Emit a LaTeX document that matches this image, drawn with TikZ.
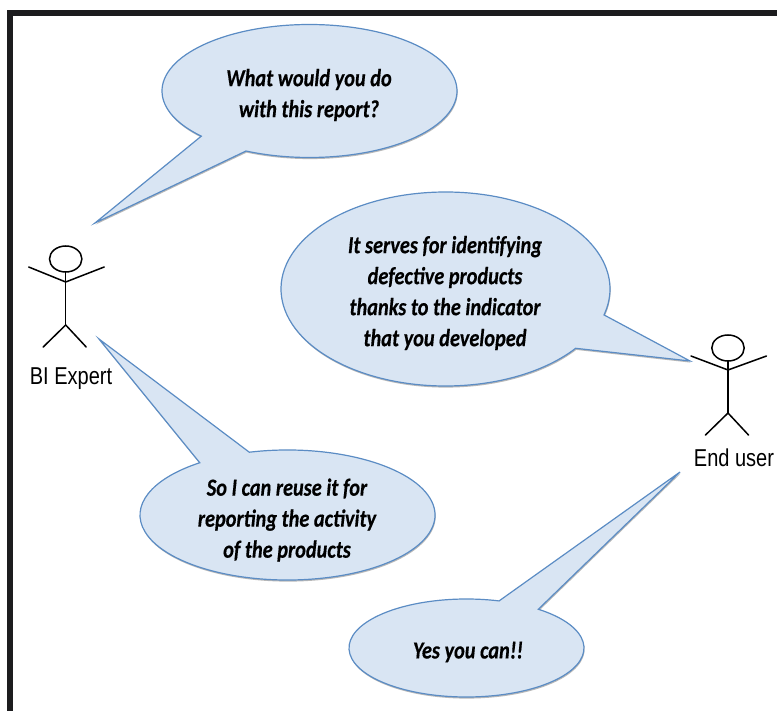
\documentclass[tikz,border=0pt]{standalone}
\usepackage{fontspec}
\setmainfont{Carlito}
\newfontfamily\sayfont[FakeStretch=0.83,BoldItalicFeatures={FakeBold=0.35}]{Carlito}
\newfontfamily\labelfont[FakeStretch=0.82]{Liberation Sans}
\usetikzlibrary{shadows}
\definecolor{bubblefill}{HTML}{D9E5F3}
\definecolor{bubbleline}{HTML}{5B8CC4}
\definecolor{framecol}{HTML}{1C1C1E}
\tikzset{
  bubble/.style={draw=bubbleline,fill=bubblefill,line width=1.2pt,line join=miter,
    drop shadow={shadow xshift=0.6pt,shadow yshift=-1.6pt,opacity=.28,fill=black}},
  saying/.style={align=center,inner sep=0pt,font=\sayfont\fontsize{24.5}{31}\selectfont\bfseries\itshape,text=black},
  actorline/.style={draw=black,line width=1.5pt,line cap=round},
  actorname/.style={inner sep=0pt,font=\labelfont\fontsize{24.4}{28}\selectfont,text=black}
}
\newcommand\speech[8]{%
  \path[bubble] ([shift={(#1,#2)}]#5:#3 and #4)
    arc[start angle=#5,end angle=#6,x radius=#3,y radius=#4] -- (#7,#8) -- cycle;}
\newcommand\stickman[7]{%
  \draw[actorline] (#1,#2) ellipse[x radius=16.2,y radius=13];
  \draw[actorline] (#1,#3) -- (#1,#4);
  \draw[actorline] (#1-37,#5) -- (#1,#6) -- (#1+38.5,#5);
  \draw[actorline] (#1-22.5,#7) -- (#1,#4) -- (#1+20.5,#7);}
\begin{document}
\begin{tikzpicture}[x=1pt,y=-1pt]
\useasboundingbox (0,0) rectangle (777,711);
\fill[white] (0,0) rectangle (777,711);
\fill[framecol] (7,10) rectangle (777,16);
\fill[framecol] (7,10) rectangle (13,711);

\speech{309.5}{91}{147.5}{66.5}{137.2}{475.5}{95}{223}
\speech{445.5}{289}{164.5}{97}{37.7}{375.5}{690}{361}
\speech{287.5}{515}{147.5}{65}{255}{593.5}{99}{339}
\speech{466.5}{648}{117.5}{49}{307.7}{646.1}{680}{472}

\node[saying] (q1) at (309,95) {What would you do\\with this report?};
\node[saying] (a1) at (445,293) {It serves for identifying\\defective products\\thanks to the indicator\\that you developed};
\node[saying] (q2) at (287,520) {So I can reuse it for\\reporting the activity\\of the products};
\node[saying] (a2) at (468,652) {Yes you can!!};

\stickman{65.7}{259}{272}{325}{267}{282}{347}
\stickman{728}{348}{361}{413}{356}{370}{435}
\node[actorname] (bi) at (71,379) {BI Expert};
\node[actorname] (eu) at (734,458) {End user};
\end{tikzpicture}
\end{document}
